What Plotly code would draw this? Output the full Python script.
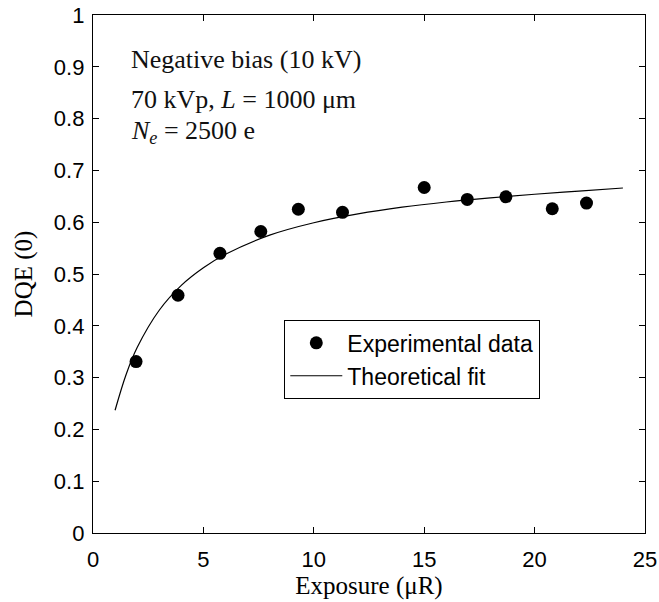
import plotly.graph_objects as go

exp_x = [1.95, 3.85, 5.75, 7.6, 9.3, 11.3, 15.0, 16.95, 18.7, 20.8, 22.35]
exp_y = [0.331, 0.459, 0.540, 0.582, 0.625, 0.619, 0.667, 0.644, 0.649, 0.626, 0.637]

fit_x = [1.0, 1.5, 2.0, 3.0, 4.0, 5.0, 6.0, 8.0, 10.0, 12.0, 14.0, 16.0, 18.0, 20.0, 22.0, 24.0]
fit_y = [0.237, 0.306, 0.358, 0.430, 0.478, 0.512, 0.538, 0.575, 0.599, 0.616, 0.629, 0.639, 0.647, 0.654, 0.660, 0.666]

x_ticks = [0, 5, 10, 15, 20, 25]
y_ticks = [0, 0.1, 0.2, 0.3, 0.4, 0.5, 0.6, 0.7, 0.8, 0.9, 1]
y_ticktext = ["0", "0.1", "0.2", "0.3", "0.4", "0.5", "0.6", "0.7", "0.8", "0.9", "1"]

notes = ["Negative bias (10 kV)",
         "70 kVp, <i>L</i> = 1000 μm",
         "<i>N</i><sub><i>e</i></sub> = 2500 e"]
note_y = [0.914, 0.836, 0.774]

serif = "Liberation Serif, Times New Roman, serif"
sans = "Liberation Sans, Arial, sans-serif"

fig = go.Figure()
fig.add_trace(go.Scatter(x=exp_x, y=exp_y, mode="markers", name="Experimental data",
                         marker=dict(color="black", size=13)))
fig.add_trace(go.Scatter(x=fit_x, y=fit_y, mode="lines", name="Theoretical fit",
                         line=dict(color="black", width=1.2, shape="spline")))

for t, yy in zip(notes, note_y):
    fig.add_annotation(x=1.62, y=yy, xref="x", yref="y", text=t, showarrow=False,
                       xanchor="left", yanchor="middle",
                       font=dict(family=serif, size=26, color="#111"))

axis_common = dict(showgrid=False, zeroline=False, showline=True, linecolor="black",
                   linewidth=1.3, mirror="ticks", ticks="inside", ticklen=6,
                   automargin=False,
                   tickcolor="black", tickfont=dict(family=sans, size=22, color="black"))

fig.update_layout(
    width=659, height=602,
    margin=dict(l=93, r=14, t=15, b=69),
    paper_bgcolor="white", plot_bgcolor="white",
    showlegend=True,
    legend=dict(x=0.346, y=0.411, xanchor="left", yanchor="top",
                bordercolor="black", borderwidth=1.3, bgcolor="white",
                font=dict(family=sans, size=23, color="black"),
                tracegroupgap=0, itemwidth=52),
    xaxis=dict(range=[0, 25], tickvals=x_ticks, ticklabelstandoff=6,
               title=dict(text="Exposure (μR)", font=dict(family=serif, size=25, color="black"),
                          standoff=1),
               **axis_common),
    yaxis=dict(range=[0, 1], tickvals=y_ticks, ticktext=y_ticktext, ticklabelstandoff=3,
               title=dict(text="DQE (0)", font=dict(family=serif, size=25, color="black"),
                          standoff=14),
               **axis_common),
)

fig.write_html("out.html")
